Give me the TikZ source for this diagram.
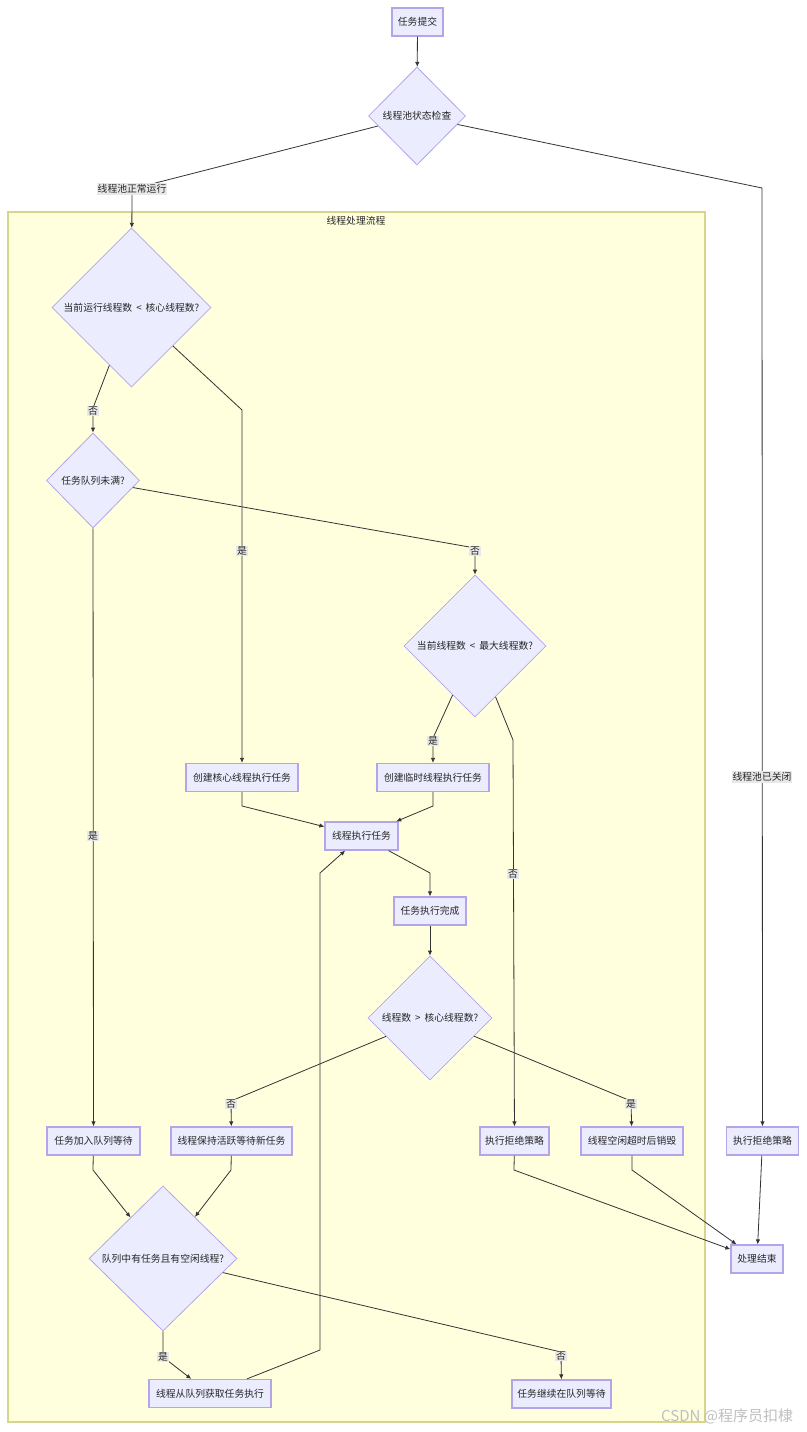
\documentclass[tikz,border=0pt]{standalone}
\usepackage{fontspec}
\newfontfamily\cjk{Noto Sans CJK SC}
\usetikzlibrary{shapes.geometric,arrows.meta}
\definecolor{nodefill}{HTML}{ECECFF}
\definecolor{nodedraw}{HTML}{B4A4EA}
\definecolor{clfill}{HTML}{FFFFDE}
\definecolor{cldraw}{HTML}{D6D68A}
\definecolor{edgec}{HTML}{333333}
\definecolor{lblbg}{HTML}{E8E8E8}
\begin{document}
\begin{tikzpicture}[x=1pt,y=-1pt,
  every node/.style={font=\cjk\fontsize{9.8}{11}\selectfont, text=black!85},
  box/.style={rectangle, draw=nodedraw, fill=nodefill, line width=1.2pt, minimum height=28pt, inner sep=2pt},
  dia/.style={diamond, draw=nodedraw, fill=nodefill, line width=0.8pt, inner sep=0pt},
  arr/.style={draw=edgec, line width=0.8pt, -{Latex[length=5pt,width=4.5pt]}},
  lbl/.style={fill=lblbg, inner sep=1pt},
]
\useasboundingbox (0,0) rectangle (806,1432);
\fill[white] (0,0) rectangle (806,1432);

% cluster
\draw[fill=clfill, draw=cldraw, line width=1.2pt] (8,212) rectangle (705,1422);
\node (cltitle) at (356,221) {线程处理流程};

% nodes
\node[box, minimum width=51pt] (start) at (417.5,22) {任务提交};
\node[dia, minimum width=97pt, minimum height=98pt] (chk) at (417,116) {线程池状态检查};
\node[dia, minimum width=159pt, minimum height=159pt] (d1) at (131.5,307.5) {当前运行线程数\hspace{4pt}<\hspace{4pt}核心线程数?};
\node[dia, minimum width=93pt, minimum height=95pt] (d2) at (93,480.5) {任务队列未满?};
\node[dia, minimum width=142pt, minimum height=142pt] (d3) at (475,646) {当前线程数\hspace{4pt}<\hspace{4pt}最大线程数?};
\node[box, minimum width=112pt] (core) at (242,777.5) {创建核心线程执行任务};
\node[box, minimum width=112pt] (tmp) at (433,777.5) {创建临时线程执行任务};
\node[box, minimum width=73pt] (run) at (361.5,836) {线程执行任务};
\node[box, minimum width=72pt] (done) at (430,911) {任务执行完成};
\node[dia, minimum width=124pt, minimum height=124pt] (d4) at (430,1018) {线程数\hspace{4pt}>\hspace{4pt}核心线程数?};
\node[box, minimum width=93pt] (enq) at (93.5,1141) {任务加入队列等待};
\node[box, minimum width=121pt] (keep) at (231.5,1141) {线程保持活跃等待新任务};
\node[box, minimum width=69pt] (rej1) at (514.5,1141) {执行拒绝策略};
\node[box, minimum width=102pt] (idle) at (632,1141) {线程空闲超时后销毁};
\node[box, minimum width=72pt] (rej2) at (762.5,1141) {执行拒绝策略};
\node[box, minimum width=52pt] (end) at (757,1259) {处理结束};
\node[dia, minimum width=148pt, minimum height=145pt] (d5) at (163,1258.5) {队列中有任务且有空闲线程?};
\node[box, minimum width=122pt] (take) at (210,1393.5) {线程从队列获取任务执行};
\node[box, minimum width=99pt] (wait) at (561.5,1394) {任务继续在队列等待};

% edges
\draw[arr] (start) -- (chk);
\draw[arr] (chk) -- (132,189) -- (d1);
\draw[arr] (chk) -- (762,188) -- (rej2);
\draw[arr] (d1) -- (93,408) -- (d2);
\draw[arr] (d1) -- (242,410) -- (core);
\draw[arr] (d2) -- (enq);
\draw[arr] (d2) -- (475,548) -- (d3);
\draw[arr] (d3) -- (433,738) -- (tmp);
\draw[arr] (d3) -- (513,740) -- (rej1);
\draw[arr] (core) -- (242,806) -- (run);
\draw[arr] (tmp) -- (433,806) -- (run);
\draw[arr] (run) -- (430,873) -- (done);
\draw[arr] (done) -- (d4);
\draw[arr] (d4) -- (231,1101) -- (keep);
\draw[arr] (d4) -- (631,1101) -- (idle);
\draw[arr] (enq) -- (93,1170) -- (d5);
\draw[arr] (keep) -- (231,1170) -- (d5);
\draw[arr] (d5) -- (163,1357) -- (take);
\draw[arr] (d5) -- (561,1352) -- (wait);
\draw[arr] (take) -- (320,1350) -- (320,873) -- (run);
\draw[arr] (rej1) -- (514,1170) -- (end);
\draw[arr] (idle) -- (632,1170) -- (end);
\draw[arr] (rej2) -- (end);

% edge labels
\node[lbl] (l1) at (132,189) {线程池正常运行};
\node[lbl] (l2) at (762,777) {线程池已关闭};
\node[lbl] (l3) at (93,411) {否};
\node[lbl] (l4) at (242,551) {是};
\node[lbl] (l5) at (93,836) {是};
\node[lbl] (l6) at (475,551) {否};
\node[lbl] (l7) at (433,741) {是};
\node[lbl] (l8) at (513,874) {否};
\node[lbl] (l9) at (231,1104) {否};
\node[lbl] (l10) at (631,1104) {是};
\node[lbl] (l11) at (163,1357) {是};
\node[lbl] (l12) at (561,1356) {否};

% watermark
\node[anchor=west, text=black!25, font=\cjk\fontsize{15}{17}\selectfont, inner sep=0pt] (wm) at (661,1416) {CSDN @程序员扣棣};
\end{tikzpicture}
\end{document}
